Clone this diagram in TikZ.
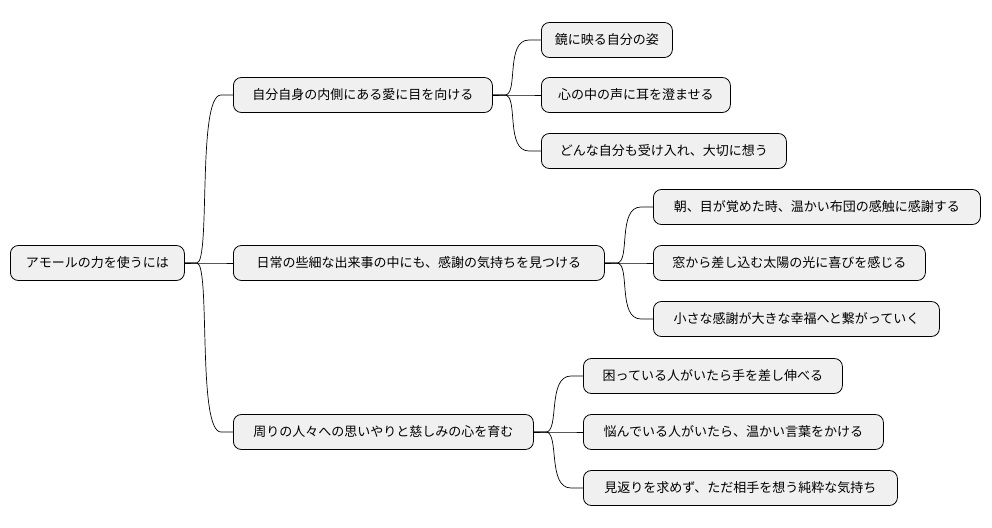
\documentclass[tikz,border=0pt]{standalone}
\usepackage{fontspec}
\setmainfont{Noto Sans CJK JP}
\usetikzlibrary{calc}
\begin{document}
\begin{tikzpicture}[x=1pt,y=-1pt,
  box/.style={draw=black,fill=gray!12,rounded corners=8pt,anchor=west,minimum height=35pt,inner xsep=0pt,font=\fontsize{13}{15}\selectfont,line width=0.8pt},
  con/.style={draw=black,line width=0.7pt}]
\useasboundingbox (0,0) rectangle (992,527);
\node[box,minimum width=174pt] (r) at (10,263) {アモールの力を使うには};
\node[box,minimum width=259pt] (a) at (233,95) {自分自身の内側にある愛に目を向ける};
\node[box,minimum width=371pt] (b) at (233,263) {日常の些細な出来事の中にも、感謝の気持ちを見つける};
\node[box,minimum width=300pt] (c) at (233,432) {周りの人々への思いやりと慈しみの心を育む};
\node[box,minimum width=131pt] (a1) at (541,40) {鏡に映る自分の姿};
\node[box,minimum width=189pt] (a2) at (541,95) {心の中の声に耳を澄ませる};
\node[box,minimum width=245pt] (a3) at (541,151) {どんな自分も受け入れ、大切に想う};
\node[box,minimum width=327pt] (b1) at (653,207) {朝、目が覚めた時、温かい布団の感触に感謝する};
\node[box,minimum width=272pt] (b2) at (653,263) {窓から差し込む太陽の光に喜びを感じる};
\node[box,minimum width=286pt] (b3) at (653,319) {小さな感謝が大きな幸福へと繋がっていく};
\node[box,minimum width=259pt] (c1) at (583,376) {困っている人がいたら手を差し伸べる};
\node[box,minimum width=300pt] (c2) at (583,432) {悩んでいる人がいたら、温かい言葉をかける};
\node[box,minimum width=314pt] (c3) at (583,488) {見返りを求めず、ただ相手を想う純粋な気持ち};
\foreach \p/\c in {r/a,r/b,r/c,a/a1,a/a2,a/a3,b/b1,b/b2,b/b3,c/c1,c/c2,c/c3}{
  \draw[con] (\p.east) -- ++(12,0) .. controls +(14,0) and +(-24,0) .. ($(\c.west)+(-12,0)$) -- (\c.west);
}
\end{tikzpicture}
\end{document}
